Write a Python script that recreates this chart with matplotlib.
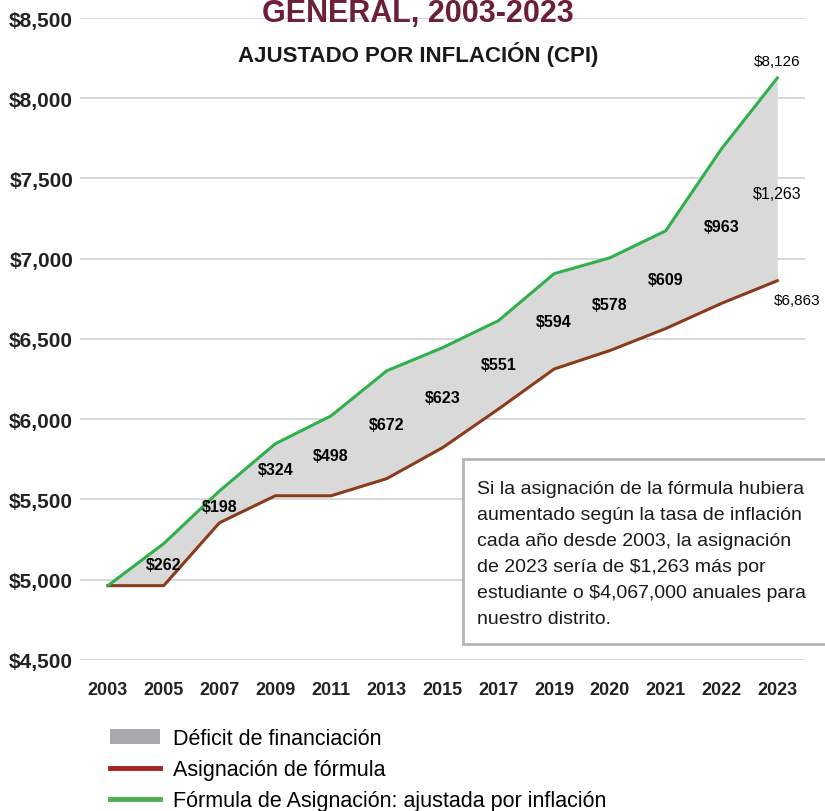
import matplotlib
matplotlib.use("Agg")
import matplotlib.pyplot as plt
import matplotlib.transforms as mtransforms
from matplotlib.patches import Patch, Rectangle
from matplotlib.lines import Line2D
import numpy as np

years = ["2003", "2005", "2007", "2009", "2011", "2013", "2015",
         "2017", "2019", "2020", "2021", "2022", "2023"]
formula = [4963, 4963, 5355, 5523, 5523, 5630, 5823,
           6063, 6313, 6428, 6565, 6722, 6863]
deficit = [0, 262, 198, 324, 498, 672, 623, 551, 594, 578, 609, 963, 1263]
adjusted = [f + d for f, d in zip(formula, deficit)]

yticks = [4500, 5000, 5500, 6000, 6500, 7000, 7500, 8000, 8500]

title_top = "GENERAL, 2003-2023"
title_sub = "AJUSTADO POR INFLACIÓN (CPI)"
note = ("Si la asignación de la fórmula hubiera\n"
        "aumentado según la tasa de inflación\n"
        "cada año desde 2003, la asignación\n"
        "de 2023 sería de $1,263 más por\n"
        "estudiante o $4,067,000 anuales para\n"
        "nuestro distrito.")
legend_labels = ["Déficit de financiación", "Asignación de fórmula",
                 "Fórmula de Asignación: ajustada por inflación"]

font = "Liberation Sans"
plt.rcParams['font.family'] = [font, 'DejaVu Sans']

green = "#2fb04a"
brown = "#8a3b1c"

fig = plt.figure(figsize=(8.25, 8.12), dpi=100)
ax = fig.add_axes([0.097, 0.186, 0.879, 0.7906])

x = np.arange(len(years))
ax.fill_between(x, formula, adjusted, color="#d9d9d9", zorder=1, linewidth=0)
ax.plot(x, formula, color=brown, lw=2.2, zorder=3)
ax.plot(x, adjusted, color=green, lw=2.2, zorder=3)

ax.set_xlim(-0.5, 12.5)
ax.set_ylim(4500, 8500)
ax.set_yticks(yticks)
ax.set_yticklabels([f"${v:,}" for v in yticks], fontweight="bold",
                   fontsize=15, color="#222222")
ax.set_xticks(x)
ax.set_xticklabels(years, fontweight="bold", fontsize=13, color="#222222")
shift = mtransforms.ScaledTranslation(12 / 100, 0, fig.dpi_scale_trans)
for lab in ax.get_xticklabels():
    lab.set_transform(lab.get_transform() + shift)
ax.tick_params(axis="both", length=0)
ax.tick_params(axis="y", pad=5)
ax.tick_params(axis="x", pad=15)
ax.grid(axis="y", color="#d4d4d4", lw=1.3, zorder=0)
ax.set_axisbelow(True)
for s in ax.spines.values():
    s.set_visible(False)

# deficit labels in the middle of the band
for i in range(1, len(years) - 1):
    ax.text(x[i], (formula[i] + adjusted[i]) / 2, f"${deficit[i]:,}",
            ha="center", va="center", fontweight="bold",
            fontsize=11.5, zorder=4)
i = len(years) - 1
ax.text(x[i], (formula[i] + adjusted[i]) / 2 - 90, f"${deficit[i]:,}",
        ha="center", va="center", fontsize=11.5, zorder=4)
ax.text(x[i], adjusted[i] + 60, f"${adjusted[i]:,}", ha="center", va="bottom",
        fontsize=11, zorder=4)
ax.text(x[i] + 0.35, formula[i] - 120, f"${formula[i]:,}", ha="center", va="center",
        fontsize=11, zorder=4)

fig.text(0.507, 0.973, title_top, ha="center", va="baseline",
         fontweight="bold", fontsize=22, color="#6d1f35")
fig.text(0.507, 0.9236, title_sub, ha="center", va="baseline",
         fontweight="bold", fontsize=16, color="#1a1a1a")

# note box
fig.patches.append(Rectangle((463 / 825, 1 - 645 / 812), 0.5, 185 / 812,
                             transform=fig.transFigure, facecolor="white",
                             edgecolor="#b5b5b5", lw=2, zorder=5))
fig.text(477 / 825, 1 - 481 / 812, note, ha="left", va="top",
         fontsize=14, linespacing=1.70, color="#1a1a1a", zorder=6)

handles = [Patch(facecolor="#a7a9ac", edgecolor="none"),
           Line2D([], [], color="#a52222", lw=3.5),
           Line2D([], [], color="#4caf50", lw=3.5)]
fig.legend(handles, legend_labels, loc="upper left",
           bbox_to_anchor=(0.133, 0.102), frameon=False,
           prop={"size": 15.5}, handlelength=2.33,
           handleheight=0.65, handletextpad=0.6, labelspacing=0.46,
           borderaxespad=0, borderpad=0)

fig.savefig("out.png", dpi=100)
